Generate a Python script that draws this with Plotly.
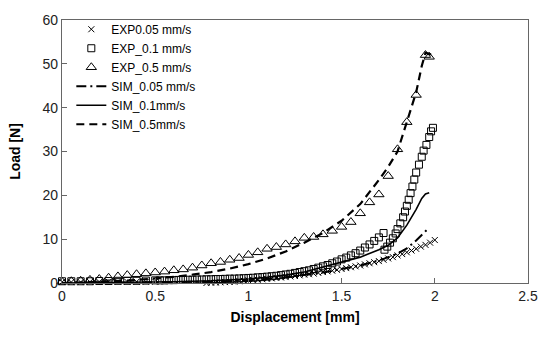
import plotly.graph_objects as go

# ---------------- data ----------------
exp005_x = [0, 0.05, 0.1, 0.15, 0.2, 0.25, 0.3, 0.35, 0.4, 0.45, 0.5,
            0.525, 0.55, 0.575, 0.6, 0.625, 0.65, 0.675, 0.7, 0.725, 0.75,
            0.775, 0.8, 0.825, 0.85, 0.875, 0.9, 0.925, 0.95, 0.975, 1.0,
            1.025, 1.05, 1.075, 1.1, 1.125, 1.15, 1.175, 1.2, 1.225, 1.25,
            1.275, 1.3, 1.325, 1.35, 1.375, 1.4, 1.425, 1.45, 1.475, 1.5,
            1.525, 1.55, 1.575, 1.6, 1.625, 1.65, 1.675, 1.7, 1.725, 1.75,
            1.775, 1.8, 1.825, 1.85, 1.875, 1.9, 1.925, 1.95, 1.975, 2.0]
exp005_y = [0.2, 0.2, 0.2, 0.25, 0.25, 0.3, 0.3, 0.3, 0.3, 0.3, 0.3,
            -0.4, -0.35, -0.3, -0.3, -0.25, -0.2, -0.2, -0.15, -0.1, -0.05,
            0.0, 0.05, 0.1, 0.15, 0.2, 0.25, 0.3, 0.4, 0.5, 0.6,
            0.7, 0.75, 0.85, 0.95, 1.05, 1.15, 1.25, 1.35, 1.5, 1.6,
            1.75, 1.9, 2.0, 2.15, 2.3, 2.5, 2.65, 2.8, 3.0, 3.2,
            3.4, 3.6, 3.8, 4.0, 4.25, 4.5, 4.75, 5.0, 5.3, 5.6,
            5.9, 6.3, 6.6, 7.0, 7.4, 7.8, 8.3, 8.7, 9.2, 9.8]

exp01_x = [0, 0.05, 0.1, 0.15, 0.2, 0.25, 0.3, 0.35, 0.4, 0.45, 0.5,
           0.525, 0.55, 0.575, 0.6, 0.625, 0.65, 0.675, 0.7, 0.725, 0.75,
           0.775, 0.8, 0.825, 0.85, 0.875, 0.9, 0.925, 0.95, 0.975, 1.0,
           1.025, 1.05, 1.075, 1.1, 1.125, 1.15, 1.175, 1.2, 1.225, 1.25,
           1.275, 1.3, 1.325, 1.35, 1.375, 1.4, 1.425, 1.45, 1.475, 1.5,
           1.525, 1.55, 1.575, 1.6, 1.625, 1.65, 1.675, 1.7, 1.725,
           1.73, 1.745, 1.76, 1.775, 1.79, 1.8, 1.815, 1.83, 1.84, 1.85,
           1.86, 1.87, 1.88, 1.89, 1.9, 1.915, 1.93, 1.94, 1.955, 1.97,
           1.98, 1.99]
exp01_y = [0.4, 0.4, 0.4, 0.4, 0.45, 0.45, 0.5, 0.5, 0.5, 0.55, 0.6,
           0.6, 0.6, 0.65, 0.65, 0.7, 0.7, 0.75, 0.75, 0.8, 0.8,
           0.85, 0.85, 0.9, 0.9, 0.95, 1.0, 1.0, 1.05, 1.1, 1.15,
           1.2, 1.3, 1.35, 1.45, 1.55, 1.65, 1.8, 1.95, 2.1, 2.3,
           2.5, 2.7, 2.9, 3.2, 3.5, 3.8, 4.1, 4.5, 4.9, 5.4,
           5.8, 6.3, 6.8, 7.4, 8.1, 8.8, 9.6, 10.4, 11.4,
           7.6, 8.3, 9.2, 10.2, 11.3, 12.3, 13.6, 15.0, 16.3, 17.6,
           19.0, 20.5, 22.0, 23.6, 25.2, 27.0, 28.8, 30.2, 31.5, 33.3,
           34.6, 35.4]

exp05_x = [0, 0.05, 0.1, 0.15, 0.2, 0.25, 0.3, 0.35, 0.4, 0.45, 0.5,
           0.55, 0.6, 0.65, 0.7, 0.75, 0.8, 0.85, 0.9, 0.95, 1.0,
           1.05, 1.1, 1.15, 1.2, 1.25, 1.3, 1.35, 1.4, 1.45, 1.5,
           1.55, 1.6, 1.65, 1.7, 1.75, 1.8, 1.85, 1.9, 1.95, 1.97]
exp05_y = [0.3, 0.4, 0.5, 0.7, 0.9, 1.2, 1.5, 1.8, 2.0, 2.2, 2.4,
           2.6, 2.9, 3.1, 3.5, 4.0, 4.5, 4.8, 5.3, 5.7, 6.4,
           7.0, 7.8, 8.2, 8.8, 9.5, 10.3, 10.5, 11.1, 11.9, 12.8,
           13.9, 15.9, 18.4, 20.2, 24.4, 30.5, 36.7, 42.9, 52.0, 51.6]

sim005_x = [0, 0.5, 0.8, 1.0, 1.2, 1.4, 1.6, 1.7, 1.8, 1.85, 1.9, 1.95, 1.97]
sim005_y = [0, 0.1, 0.3, 0.6, 1.3, 2.4, 4.0, 5.1, 6.7, 7.9, 9.7, 11.8, 12.6]

sim01_x = [0, 0.2, 0.4, 0.6, 0.8, 1.0, 1.1, 1.2, 1.3, 1.4, 1.5, 1.6, 1.7,
           1.75, 1.8, 1.85, 1.9, 1.93, 1.95, 1.97]
sim01_y = [0, 0.05, 0.15, 0.3, 0.5, 0.9, 1.3, 1.8, 2.5, 3.6, 4.8, 5.9, 7.6,
           8.6, 10.3, 13.2, 16.8, 19.3, 20.3, 20.6]

sim05_x = [0, 0.1, 0.2, 0.3, 0.4, 0.5, 0.6, 0.7, 0.8, 0.9, 1.0, 1.1, 1.2,
           1.3, 1.4, 1.5, 1.6, 1.7, 1.75, 1.8, 1.85, 1.9, 1.93, 1.95,
           1.97, 2.0]
sim05_y = [0, 0.1, 0.25, 0.45, 0.7, 1.0, 1.4, 1.9, 2.5, 3.3, 4.3, 5.6, 7.2,
           9.2, 11.4, 14.2, 18.0, 23.5, 26.5, 30.0, 37.0, 43.5, 49.5, 52.5,
           52.3, 51.5]

x_ticks = [0, 0.5, 1, 1.5, 2, 2.5]
y_ticks = [0, 10, 20, 30, 40, 50, 60]

FONT = "Liberation Sans, Arial, sans-serif"

fig = go.Figure()
fig.add_trace(go.Scatter(x=exp005_x, y=exp005_y, mode="markers", name="EXP0.05 mm/s",
                         marker=dict(symbol="x-thin-open", size=6, color="black",
                                     line=dict(width=1, color="black")),
                         cliponaxis=False))
fig.add_trace(go.Scatter(x=exp01_x, y=exp01_y, mode="markers", name="EXP_0.1 mm/s",
                         marker=dict(symbol="square-open", size=7, color="black",
                                     line=dict(width=1, color="black")),
                         cliponaxis=False))
fig.add_trace(go.Scatter(x=exp05_x, y=exp05_y, mode="markers", name="EXP_0.5 mm/s",
                         marker=dict(symbol="triangle-up-open", size=9, color="black",
                                     line=dict(width=1, color="black")),
                         cliponaxis=False))
fig.add_trace(go.Scatter(x=sim005_x, y=sim005_y, mode="lines", name="SIM_0.05 mm/s",
                         line=dict(color="black", width=2, dash="10px,4px,2px,4px")))
fig.add_trace(go.Scatter(x=sim01_x, y=sim01_y, mode="lines", name="SIM_0.1mm/s",
                         line=dict(color="black", width=1.6)))
fig.add_trace(go.Scatter(x=sim05_x, y=sim05_y, mode="lines", name="SIM_0.5mm/s",
                         line=dict(color="black", width=2.2, dash="8px,5px")))

axis_common = dict(showline=True, linecolor="#666666", linewidth=1.2, mirror=True,
                   showgrid=False, zeroline=False, ticks="inside", ticklen=5,
                   tickcolor="#666666", tickfont=dict(family=FONT, size=14, color="#222"))

fig.update_layout(
    width=550, height=339,
    margin=dict(l=62, r=18, t=14, b=56),
    paper_bgcolor="white", plot_bgcolor="white",
    font=dict(family=FONT, color="black"),
    xaxis=dict(range=[0, 2.5], tickvals=x_ticks, ticktext=[str(v) for v in x_ticks],
               title=dict(text="<b>Displacement [mm]</b>", font=dict(family=FONT, size=14),
                          standoff=9),
               **axis_common),
    yaxis=dict(range=[0, 60], tickvals=y_ticks, ticktext=[str(v) for v in y_ticks],
               title=dict(text="<b>Load [N]</b>", font=dict(family=FONT, size=14),
                          standoff=18),
               **axis_common),
    legend=dict(x=0.02, y=1.02, xanchor="left", yanchor="top",
                bgcolor="rgba(0,0,0,0)", borderwidth=0,
                font=dict(family=FONT, size=12, color="black"),
                tracegroupgap=0),
    showlegend=True,
)

fig.write_html("out.html", config={"displayModeBar": False},
               post_script="document.body.style.margin='0';document.body.style.overflow='hidden';")
